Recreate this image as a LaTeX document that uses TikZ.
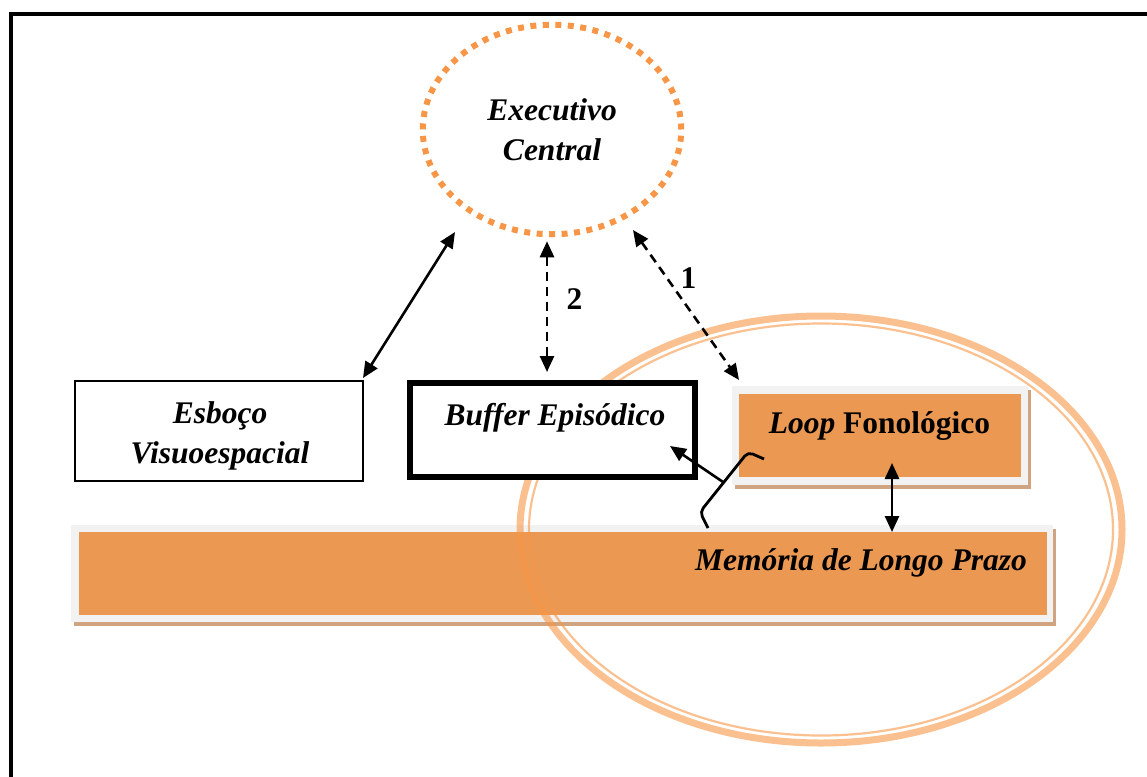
\documentclass[tikz,border=0pt]{standalone}
\usepackage{fontspec}
\setmainfont{Liberation Serif}
\usetikzlibrary{shapes.geometric,arrows.meta,calc}
\definecolor{boxorange}{RGB}{235,152,83}
\definecolor{dotorange}{RGB}{247,150,70}
\definecolor{framegray}{RGB}{242,242,242}
\definecolor{shadowtan}{RGB}{208,164,128}
\begin{document}
\begin{tikzpicture}[x=1pt,y=-1pt,
  lbl/.style={font=\fontsize{31.5}{40}\selectfont\bfseries\itshape, inner sep=0pt, align=center},
  num/.style={font=\fontsize{31.5}{40}\selectfont\bfseries, inner sep=0pt},
  arr/.style={line width=2.6pt, {Triangle[length=16pt,width=14pt]}-{Triangle[length=16pt,width=14pt]}},
  onearr/.style={line width=2.6pt, -{Triangle[length=16pt,width=14pt]}},
  darr/.style={arr, dash pattern=on 9pt off 6pt},
  plainbox/.style={rectangle, draw=black, fill=white, inner sep=0pt, outer sep=0pt},
  shadowbox/.style={rectangle, fill=shadowtan, inner sep=0pt, outer sep=0pt},
  graybox/.style={rectangle, fill=framegray, inner sep=0pt, outer sep=0pt},
  orangebox/.style={rectangle, fill=boxorange, inner sep=0pt, outer sep=0pt},
  ring/.style={draw=dotorange, opacity=0.6},
  dotring/.style={ellipse, draw=dotorange, line width=6pt, dash pattern=on 6pt off 6.5pt, inner sep=0pt, outer sep=0pt},
]
\useasboundingbox (0,0) rectangle (1147,776);
\clip (0,0) rectangle (1147,776);
% outer frame
\draw[line width=4pt] (10.5,800) |- (1170,14);

% Memoria de Longo Prazo
\node[shadowbox, minimum width=982pt, minimum height=97pt] (mlpsh) at (565,577.5) {};
\node[graybox, minimum width=982pt, minimum height=97pt] (mlpbg) at (562,573.5) {};
\node[orangebox, minimum width=968pt, minimum height=83pt] (mlp) at (563,573.5) {};

% Loop Fonologico
\node[shadowbox, minimum width=296pt, minimum height=99pt] (loopsh) at (883,439.5) {};
\node[graybox, minimum width=296pt, minimum height=99pt] (loopbg) at (880,435.5) {};
\node[orangebox, minimum width=282pt, minimum height=83pt] (loop) at (880,435.5) {};

% large double ellipse
\draw[ring, line width=7pt] (821,529.5) ellipse [x radius=301, y radius=213.5];
\draw[ring, line width=2.2pt] (821,529.5) ellipse [x radius=292, y radius=206];

% boxes
\node[plainbox, line width=2pt, minimum width=288pt, minimum height=100pt] (esb) at (219,431) {};
\node[plainbox, line width=6pt, minimum width=285pt, minimum height=94pt] (buf) at (552.5,430) {};

% executivo central
\node[dotring, lbl, minimum width=258.5pt, minimum height=209.5pt] (exec) at (552,129.5) {Executivo\\Central};

% texts
\node[lbl] (esbtxt) at (220,436) {Esboço\\Visuoespacial};
\node[lbl, anchor=base] (buftxt) at (555,425) {Buffer Episódico};
\node[lbl, anchor=base] (looptxt) at (879.5,433) {Loop \textup{Fonológico}};
\node[lbl, anchor=base east] (mlptxt) at (1027,570) {Memória de Longo Prazo};
\node[num, anchor=base] (n1) at (688.5,288) {1};
\node[num, anchor=base] (n2) at (574.5,309) {2};

% connectors
\draw[arr] ($(esb.north east)+(0,-3)$) -- ($(exec.center)+(-97,102.5)$);
\draw[darr] ($(exec.south)+(-5,7)$) -- ($(buf.north)+(-5.5,-11)$);
\draw[darr] ($(exec.center)+(81,100.5)$) -- ($(loopbg.north west)+(7,-6)$);
\coordinate (lm) at ($(loop.south)+(12,0)$);
\draw[arr] ($(lm)+(0,-14)$) -- (lm |- mlp.north);

% bracket and arrow to buffer
\draw[line width=2.8pt, rounded corners=5pt] (764,459) -- (748,452) -- (700,512) -- (708,528);
\coordinate (brk) at (723,482);
\draw[onearr] (brk) -- ($(buf.south east)+(-25,-31)$);
\end{tikzpicture}
\end{document}
